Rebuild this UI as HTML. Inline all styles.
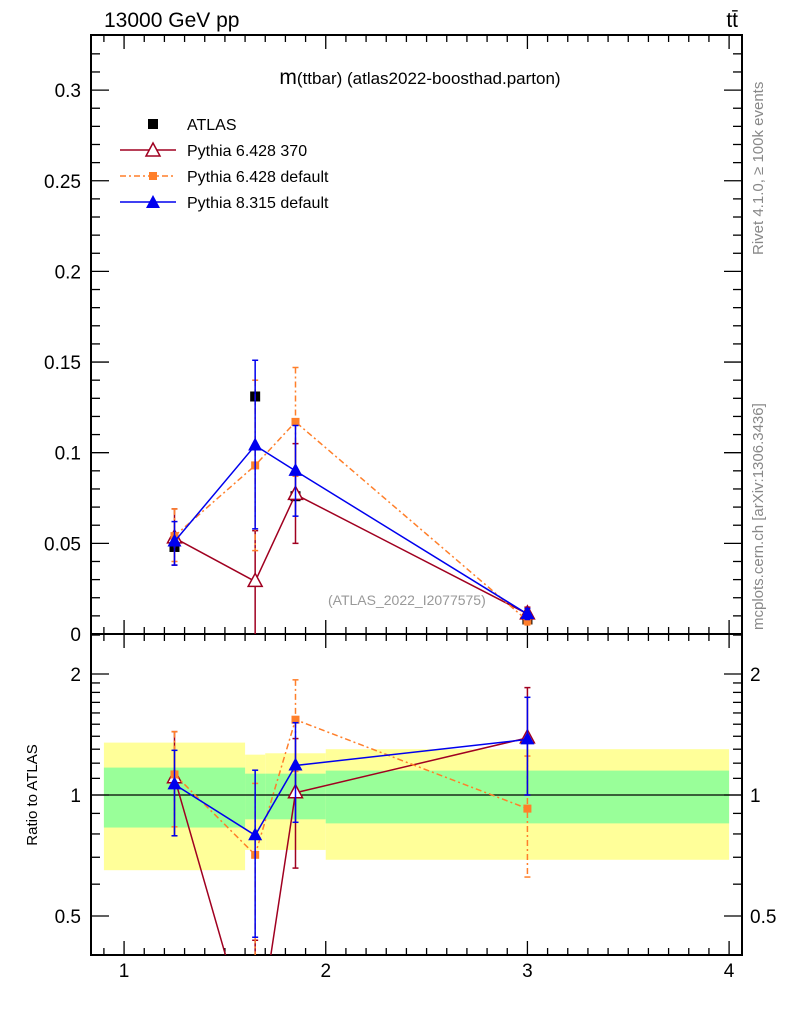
<!DOCTYPE html>
<html><head><meta charset="utf-8"><style>
html,body{margin:0;padding:0;background:#fff;}
svg{display:block;font-family:"Liberation Sans",sans-serif;}
</style></head><body>
<svg id="c" width="786" height="1024" viewBox="0 0 786 1024"></svg>
<script>
const binLo=[0.9,1.6,1.7,2.0];
const binHi=[1.6,1.7,2.0,4.0];
const xPts=[1.25,1.65,1.85,3.0];
const atlasVals=[0.048,0.131,0.076,0.0080];
const bandYellowUp=[1.35,1.26,1.27,1.30];
const bandYellowDn=[0.65,0.73,0.73,0.69];
const bandGreenUp=[1.17,1.13,1.13,1.15];
const bandGreenDn=[0.83,0.87,0.87,0.85];
const p370Vals=[0.053,0.029,0.077,0.0111];
const p370Up=[0.069,0.057,0.105,0.0148];
const p370Dn=[0.038,0.0,0.050,0.0080];
const p6Vals=[0.054,0.093,0.117,0.0074];
const p6Up=[0.069,0.140,0.147,0.0100];
const p6Dn=[0.040,0.046,0.087,0.0050];
const p8Vals=[0.051,0.104,0.090,0.011];
const p8Up=[0.062,0.151,0.115,0.0140];
const p8Dn=[0.038,0.058,0.065,0.0080];
const yTicks=[0,0.05,0.1,0.15,0.2,0.25,0.3];
const yTickLabels=["0","0.05","0.1","0.15","0.2","0.25","0.3"];
const rTicks=[0.5,1,2];
const rTickLabels=["0.5","1","2"];
const xTicks=[1,2,3,4];
const xTickLabels=["1","2","3","4"];

const L=91,R=742,T=35,M=634,B=955;
const xmin=0.836,xmax=4.064;
const X=v=>L+(v-xmin)/(xmax-xmin)*(R-L);
const Y=v=>634-v*1813;
const YR=v=>795-Math.log2(v)*121;
const svg=document.getElementById('c');
const NS='http://www.w3.org/2000/svg';
function el(tag,attrs,parent){const e=document.createElementNS(NS,tag);for(const k in attrs)e.setAttribute(k,attrs[k]);(parent||svg).appendChild(e);return e;}
function clampR(y){return Math.max(M,Math.min(B,y));}
function clampM(y){return Math.max(T,Math.min(M,y));}

const gB=el('g',{});


for(let i=0;i<binLo.length;i++){
  const y=el('rect',{x:X(binLo[i]),y:YR(bandYellowUp[i]),width:X(binHi[i])-X(binLo[i]),height:YR(bandYellowDn[i])-YR(bandYellowUp[i]),fill:'#ffff99'},gB);
  
  
}
for(let i=0;i<binLo.length;i++){
  const g=el('rect',{x:X(binLo[i]),y:YR(bandGreenUp[i]),width:X(binHi[i])-X(binLo[i]),height:YR(bandGreenDn[i])-YR(bandGreenUp[i]),fill:'#99ff99'},gB);
  
  
}
el('line',{x1:L,x2:R,y1:YR(1),y2:YR(1),stroke:'#000','stroke-width':1.2});

el('rect',{x:L,y:T,width:R-L,height:M-T,fill:'none',stroke:'#000','stroke-width':2});
el('rect',{x:L,y:M,width:R-L,height:B-M,fill:'none',stroke:'#000','stroke-width':2});

for(let v=0.9;v<=4.05;v+=0.1){
  const major=Math.abs(v-Math.round(v))<1e-6;
  const len=major?14:7;
  const x=X(v);
  [[M,-1],[T,1],[B,-1],[M,1]].forEach(([y0,d])=>el('line',{x1:x,x2:x,y1:y0,y2:y0+d*len,stroke:'#000','stroke-width':1.3}));
}
xTicks.forEach((v,i)=>{const t=el('text',{x:X(v),y:977,'font-size':19,'text-anchor':'middle'});t.textContent=xTickLabels[i];
});

for(let v=0;v<=0.33;v+=0.01){
  const major=Math.abs(v/0.05-Math.round(v/0.05))<1e-6;
  const len=major?18:9;const y=Y(v);
  el('line',{x1:L,x2:L+len,y1:y,y2:y,stroke:'#000','stroke-width':1.3});
  el('line',{x1:R,x2:R-len,y1:y,y2:y,stroke:'#000','stroke-width':1.3});
}
yTicks.forEach((v,i)=>{const t=el('text',{x:81,y:Y(v)+7,'font-size':19,'text-anchor':'end'});t.textContent=yTickLabels[i];
});
[0.4,0.5,0.6,0.7,0.8,0.9,1,1.1,1.2,1.3,1.4,1.5,1.6,1.7,1.8,1.9,2,2.5].forEach(v=>{
  const major=rTicks.includes(v);const len=major?18:9;const y=YR(v);
  if(y<M||y>B)return;
  el('line',{x1:L,x2:L+len,y1:y,y2:y,stroke:'#000','stroke-width':1.3});
  el('line',{x1:R,x2:R-len,y1:y,y2:y,stroke:'#000','stroke-width':1.3});
});
rTicks.forEach((v,i)=>{
  const t=el('text',{x:81,y:YR(v)+7,'font-size':19,'text-anchor':'end'});t.textContent=rTickLabels[i];
  
  const t2=el('text',{x:750,y:YR(v)+7,'font-size':19,'text-anchor':'start'});t2.textContent=rTickLabels[i];
  
});

function marker(g,type,x,y,color){
  if(type==='sq'){el('rect',{x:x-5,y:y-5,width:10,height:10,fill:color},g);}
  else if(type==='sqs'){el('rect',{x:x-4,y:y-4,width:8,height:8,fill:color},g);}
  else if(type==='tri'){el('polygon',{points:`${x},${y-8} ${x-7},${y+5} ${x+7},${y+5}`,fill:color},g);}
  else if(type==='otri'){el('polygon',{points:`${x},${y-8} ${x-7},${y+5} ${x+7},${y+5}`,fill:'#fff',stroke:color,'stroke-width':1.5},g);}
}
function series(name,vals,up,dn,color,mk,dash){
  const g=el('g',{});
  
  
  const da=dash?{'stroke-dasharray':dash}:{};
  el('polyline',Object.assign({points:vals.map((v,i)=>X(xPts[i])+','+clampM(Y(v))).join(' '),fill:'none',stroke:color,'stroke-width':1.5},da),g);
  vals.forEach((v,i)=>{const x=X(xPts[i]);
    el('line',Object.assign({x1:x,x2:x,y1:clampM(Y(up[i])),y2:clampM(Y(dn[i])),stroke:color,'stroke-width':1.5},da),g);
    [up[i],dn[i]].forEach(e=>{if(Y(e)<M)el('line',{x1:x-3,x2:x+3,y1:Y(e),y2:Y(e),stroke:color,'stroke-width':1.5},g);});
    marker(g,mk,x,Y(v),color);
  });
  const rv=vals.map((v,i)=>v/atlasVals[i]);
  el('polyline',Object.assign({points:rv.map((v,i)=>X(xPts[i])+','+YR(v)).join(' '),fill:'none',stroke:color,'stroke-width':1.5,'clip-path':'url(#rc)'},da),g);
  rv.forEach((v,i)=>{const x=X(xPts[i]);
    const ru=up[i]/atlasVals[i],rd=Math.max(dn[i]/atlasVals[i],0.01);
    el('line',Object.assign({x1:x,x2:x,y1:clampR(YR(ru)),y2:clampR(YR(rd)),stroke:color,'stroke-width':1.5},da),g);
    [ru,rd].forEach(e=>{const y=YR(e);if(y>M&&y<B)el('line',{x1:x-3,x2:x+3,y1:y,y2:y,stroke:color,'stroke-width':1.5},g);});
    if(YR(v)<B)marker(g,mk,x,YR(v),color);
  });
}
const defs=el('defs',{});
const cp=el('clipPath',{id:'rc'},defs);el('rect',{x:L,y:M,width:R-L,height:B-M},cp);

const ga=el('g',{});


atlasVals.forEach((v,i)=>marker(ga,'sq',X(xPts[i]),Y(v),'#000'));

series('pythia-6428-370',p370Vals,p370Up,p370Dn,'#a00020','otri',null);
series('pythia-6428-default',p6Vals,p6Up,p6Dn,'#ff7f2a','sqs','6,3,2,3');
series('pythia-8315-default',p8Vals,p8Up,p8Dn,'#0000ee','tri',null);

function txt(s,a,name){const t=el('text',a);t.textContent=s;return t;}
txt('13000 GeV pp',{x:104,y:27,'font-size':21},'collision-label');
txt('tt̄',{x:738,y:27,'font-size':21,'text-anchor':'end'},'process-label');
const tt=txt('',{x:420,y:84,'font-size':17,'text-anchor':'middle'},'plot-title');
const ts1=el('tspan',{'font-size':21},tt);ts1.textContent='m';
const ts2=el('tspan',{},tt);ts2.textContent='(ttbar) (atlas2022-boosthad.parton)';
txt('(ATLAS_2022_I2077575)',{x:328,y:605,'font-size':14,fill:'#999'},'analysis-id');
txt('Rivet 4.1.0, ≥ 100k events',{x:0,y:0,'font-size':15,fill:'#888',transform:'translate(763,255) rotate(-90)'},'rivet-label');
txt('mcplots.cern.ch [arXiv:1306.3436]',{x:0,y:0,'font-size':15,fill:'#888',transform:'translate(763,630) rotate(-90)'},'mcplots-label');
txt('Ratio to ATLAS',{x:0,y:0,'font-size':15,'text-anchor':'middle',transform:'translate(37,795) rotate(-90)'},'ratio-axis-title');

const lg=el('g',{});


const entries=[['ATLAS',null,'sq','#000',null],['Pythia 6.428 370','#a00020','otri','#a00020',null],['Pythia 6.428 default','#ff7f2a','sqs','#ff7f2a','6,3,2,3'],['Pythia 8.315 default','#0000ee','tri','#0000ee',null]];
entries.forEach((e,i)=>{const y=124+i*26;
  const ge=el('g',{},lg);
  
  
  if(e[1])el('line',Object.assign({x1:120,x2:176,y1:y,y2:y,stroke:e[1],'stroke-width':1.5},e[4]?{'stroke-dasharray':e[4]}:{}),ge);
  marker(ge,e[2],153,y+(e[2].includes('tri')?1:0),e[3]);
  const t=el('text',{x:187,y:y+6,'font-size':16},ge);t.textContent=e[0];
});
</script>
</body></html>
